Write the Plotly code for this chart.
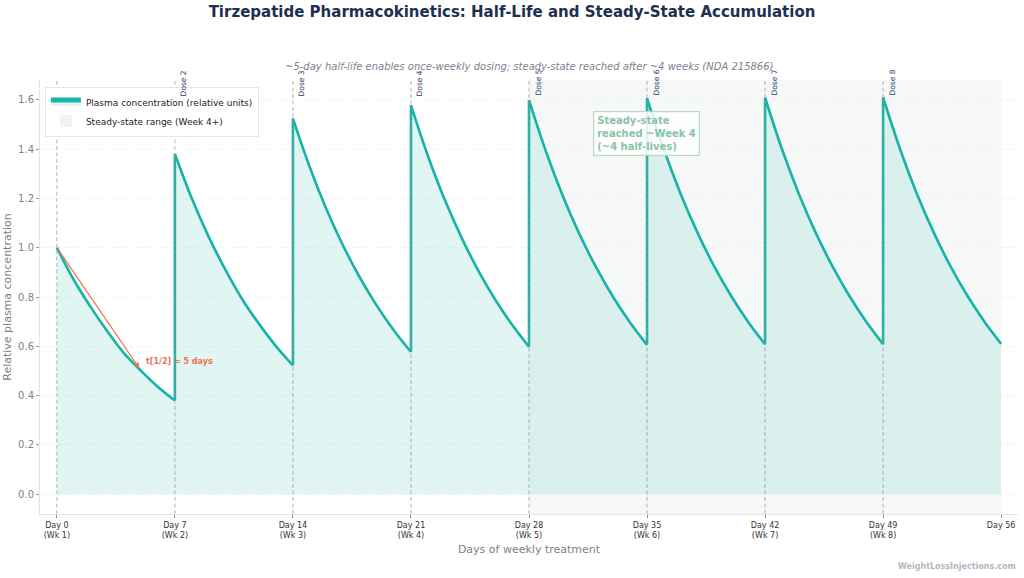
import plotly.graph_objects as go

# ---------------- data ----------------
dose_numbers = [1, 2, 3, 4, 5, 6, 7, 8]
dose_days = [0, 7, 14, 21, 28, 35, 42, 49]
day_offsets = [0, 1, 2, 3, 4, 5, 6, 7]

conc_wk1 = [1.00, 0.87, 0.76, 0.66, 0.57, 0.50, 0.435, 0.38]
conc_wk2 = [1.38, 1.20, 1.045, 0.91, 0.79, 0.69, 0.60, 0.523]
conc_wk3 = [1.523, 1.326, 1.154, 1.005, 0.875, 0.762, 0.663, 0.577]
conc_wk4 = [1.577, 1.373, 1.195, 1.041, 0.906, 0.789, 0.687, 0.598]
conc_wk5 = [1.598, 1.391, 1.211, 1.054, 0.918, 0.799, 0.696, 0.606]
conc_wk6 = [1.606, 1.398, 1.217, 1.060, 0.922, 0.803, 0.699, 0.608]
conc_wk7 = [1.608, 1.400, 1.219, 1.061, 0.924, 0.804, 0.700, 0.609]
conc_wk8 = [1.609, 1.401, 1.219, 1.062, 0.924, 0.805, 0.701, 0.610]
weekly_conc = [conc_wk1, conc_wk2, conc_wk3, conc_wk4,
               conc_wk5, conc_wk6, conc_wk7, conc_wk8]

tick_days = [0, 7, 14, 21, 28, 35, 42, 49, 56]
tick_labels = ["Day 0<br>(Wk 1)", "Day 7<br>(Wk 2)", "Day 14<br>(Wk 3)",
               "Day 21<br>(Wk 4)", "Day 28<br>(Wk 5)", "Day 35<br>(Wk 6)",
               "Day 42<br>(Wk 7)", "Day 49<br>(Wk 8)", "Day 56"]

steady_start_day = 28
steady_end_day = 56
half_life_start = (0, 1.0)
half_life_end = (4.9, 0.51)

# ---------------- styles ----------------
TEAL = "#17b3a6"
TEAL_FILL = "rgba(20,184,166,0.13)"
ORANGE = "#ea7556"
FONT = "DejaVu Sans"

fig = go.Figure()

# steady-state region
fig.add_shape(type="rect", xref="x", yref="paper", x0=steady_start_day, x1=steady_end_day,
              y0=0, y1=1, fillcolor="rgba(238,242,242,0.55)", line_width=0, layer="below")

# concentration curve, one smooth segment per week
for i, (start, conc) in enumerate(zip(dose_days, weekly_conc)):
    fig.add_trace(go.Scatter(
        x=[start + o for o in day_offsets], y=conc, mode="lines",
        line=dict(color=TEAL, width=2.6, shape="spline", smoothing=1.0),
        fill="tozeroy", fillcolor=TEAL_FILL,
        name="Plasma concentration (relative units)", legendgroup="pk",
        showlegend=(i == 0), hoverinfo="skip"))

# vertical jumps at each dose
jx, jy = [], []
for k in range(1, len(dose_days)):
    jx += [dose_days[k], dose_days[k], None]
    jy += [weekly_conc[k - 1][-1], weekly_conc[k][0], None]
fig.add_trace(go.Scatter(x=jx, y=jy, mode="lines", line=dict(color=TEAL, width=2.6),
                         legendgroup="pk", showlegend=False, hoverinfo="skip"))

# legend entry for steady-state region
fig.add_trace(go.Scatter(x=[None], y=[None], mode="markers",
                         marker=dict(symbol="square", size=12, color="rgba(238,242,242,0.9)"),
                         name="Steady-state range (Week 4+)"))

# dose lines (above fill)
for d in dose_days:
    fig.add_shape(type="line", xref="x", yref="paper", x0=d, x1=d, y0=0, y1=1,
                  line=dict(color="rgba(150,155,162,0.75)", width=1, dash="4px,2.5px"),
                  layer="above")

# dose labels (Dose 1 sits behind the legend in the reference)
for n, d in zip(dose_numbers[1:], dose_days[1:]):
    fig.add_annotation(x=d, y=1.0, xref="x", yref="paper", text=f"Dose {n}",
                       textangle=-90, showarrow=False, xanchor="left", yanchor="middle",
                       xshift=2, yshift=-3, font=dict(family=FONT, size=7.5, color="#2c3e5a"))

# half-life arrow + label
fig.add_annotation(x=half_life_end[0], y=half_life_end[1], ax=half_life_start[0],
                   ay=half_life_start[1], xref="x", yref="y", axref="x", ayref="y",
                   text="", showarrow=True, arrowhead=2, arrowsize=0.9, arrowwidth=1.3,
                   arrowcolor=ORANGE)
fig.add_annotation(x=5.15, y=0.54, xref="x", yref="y", text="<b>t[1/2] = 5 days</b>",
                   showarrow=False, xanchor="left", yanchor="middle",
                   font=dict(family=FONT, size=8, color=ORANGE))

# steady-state note
fig.add_annotation(x=31.8, y=1.465, xref="x", yref="y",
                   text="<b>Steady-state<br>reached ~Week 4<br>(~4 half-lives)</b>",
                   showarrow=False, xanchor="left", yanchor="middle", align="left",
                   font=dict(family=FONT, size=10, color="#88c3a6"),
                   bgcolor="rgba(255,255,255,0.85)", bordercolor="#b5dbc8",
                   borderwidth=1.2, borderpad=3)

# subtitle
fig.add_annotation(x=0.5, y=1.032, xref="paper", yref="paper",
                   text="<i>~5-day half-life enables once-weekly dosing; steady-state reached after ~4 weeks (NDA 215866)</i>",
                   showarrow=False, xanchor="center", yanchor="middle",
                   font=dict(family=FONT, size=10, color="#7d8290"))

# footer
fig.add_annotation(x=1.0, y=-0.122, xref="paper", yref="paper",
                   text="<b>WeightLossInjections.com</b>", showarrow=False,
                   xanchor="right", yanchor="middle",
                   font=dict(family=FONT, size=8, color="#b3b7c2"))

fig.update_layout(
    width=1024, height=578,
    margin=dict(l=40, r=6, t=80, b=64),
    paper_bgcolor="white", plot_bgcolor="white",
    font=dict(family=FONT),
    title=dict(text="<b>Tirzepatide Pharmacokinetics: Half-Life and Steady-State Accumulation</b>",
               x=0.5, xanchor="center", y=1 - 12 / 578, yanchor="middle",
               font=dict(family=FONT, size=15, color="#1d3050")),
    legend=dict(x=0.005, y=0.985, xanchor="left", yanchor="top",
                bgcolor="white", bordercolor="#e3e5e8", borderwidth=1,
                font=dict(family=FONT, size=9, color="#222"),
                tracegroupgap=0, itemsizing="constant", itemwidth=30),
    showlegend=True,
)

fig.update_xaxes(range=[-1, 57], tickmode="array", tickvals=tick_days, ticktext=tick_labels,
                 showgrid=False, zeroline=False, showline=True, linecolor="#e2e4e6",
                 ticks="outside", ticklen=3, tickcolor="#888",
                 tickfont=dict(family=FONT, size=8, color="#333"),
                 title=dict(text="Days of weekly treatment", standoff=6,
                            font=dict(family=FONT, size=11, color="#7a7f8c")))
fig.update_yaxes(range=[-0.08, 1.68], tickmode="array",
                 tickvals=[0, 0.2, 0.4, 0.6, 0.8, 1.0, 1.2, 1.4, 1.6],
                 ticktext=["0.0", "0.2", "0.4", "0.6", "0.8", "1.0", "1.2", "1.4", "1.6"],
                 showgrid=True, gridcolor="#f0f1f3", griddash="dot", gridwidth=1,
                 zeroline=False, showline=True, linecolor="#e2e4e6",
                 ticks="outside", ticklen=3, tickcolor="#999",
                 tickfont=dict(family=FONT, size=10, color="#7d828c"),
                 title=dict(text="Relative plasma concentration", standoff=4,
                            font=dict(family=FONT, size=11, color="#7a7f8c")))

fig.write_html("out.html")
